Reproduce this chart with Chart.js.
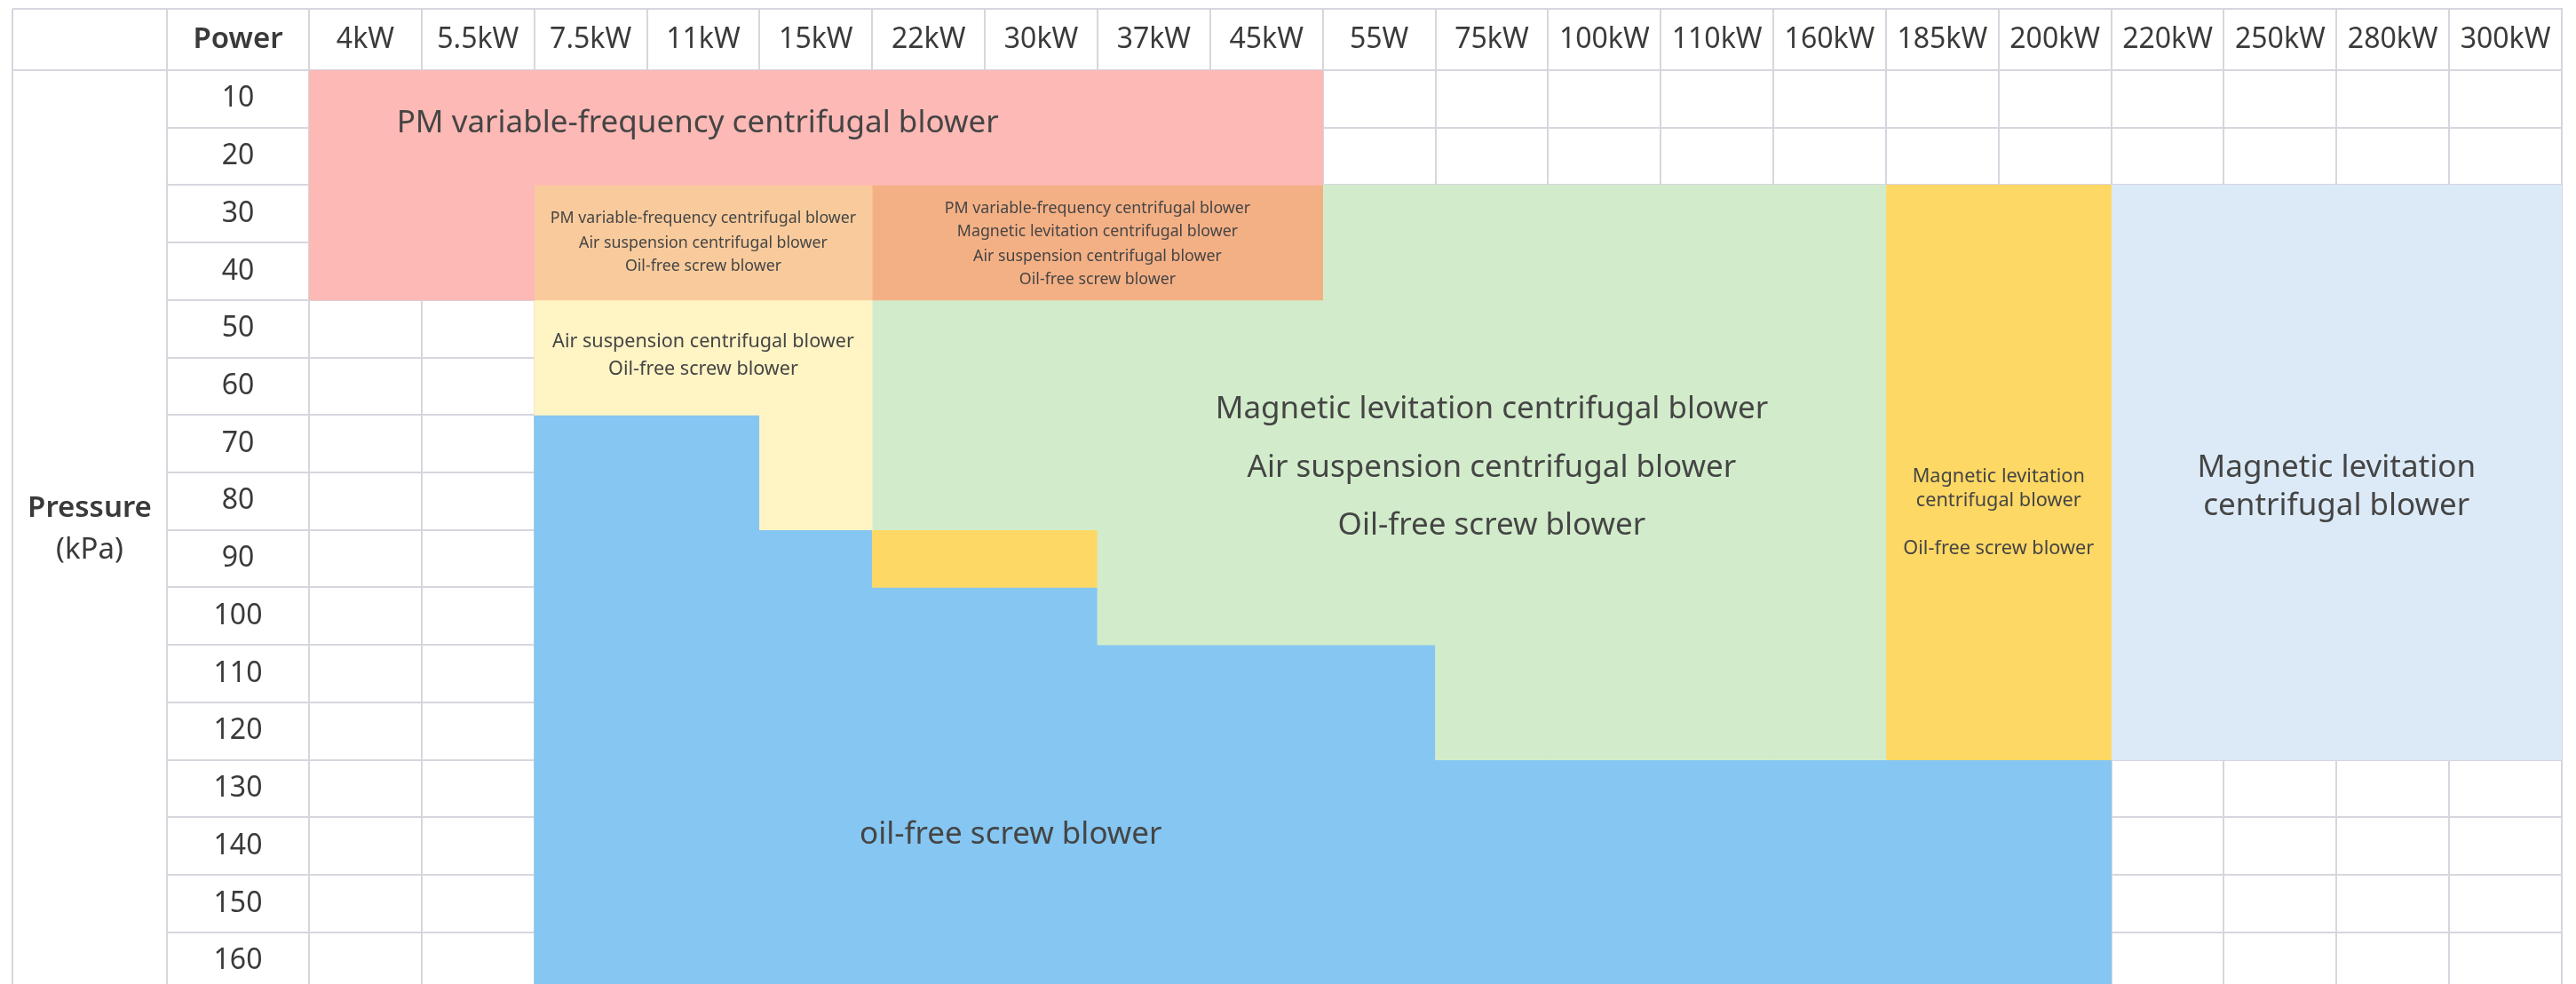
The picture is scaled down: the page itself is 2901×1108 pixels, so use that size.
<!DOCTYPE html>
<html lang="en">
<head>
<meta charset="UTF-8">
<title>Blower selection by power and pressure</title>
<script src="https://cdn.jsdelivr.net/npm/chart.js@4"></script>
<style>
  html, body { margin: 0; padding: 0; background: #fff; overflow: hidden; }
  #wrap { width: 2901px; height: 1108px; position: relative; }
</style>
</head>
<body>
<div id="wrap"><canvas id="blowerChart"></canvas></div>
<script>
// columns (power) and rows (pressure, kPa)
const powerLabels = ['4kW', '5.5kW', '7.5kW', '11kW', '15kW', '22kW', '30kW', '37kW', '45kW', '55W',
  '75kW', '100kW', '110kW', '160kW', '185kW', '200kW', '220kW', '250kW', '280kW', '300kW'];
const pressureLabels = [10, 20, 30, 40, 50, 60, 70, 80, 90, 100, 110, 120, 130, 140, 150, 160];

// pressure range [from, to] in kPa covered in each power column, null = empty cell
const pmVfd = [[10, 40], [10, 40], [10, 20], [10, 20], [10, 20], [10, 20], [10, 20], [10, 20], [10, 20],
  null, null, null, null, null, null, null, null, null, null, null];
const pmAirOil = [null, null, [30, 40], [30, 40], [30, 40],
  null, null, null, null, null, null, null, null, null, null, null, null, null, null, null];
const pmMagAirOil = [null, null, null, null, null, [30, 40], [30, 40], [30, 40], [30, 40],
  null, null, null, null, null, null, null, null, null, null, null];
const airOil = [null, null, [50, 60], [50, 60], [50, 80],
  null, null, null, null, null, null, null, null, null, null, null, null, null, null, null];
const magAirOil = [null, null, null, null, null, [50, 80], [50, 80], [50, 100], [50, 100], [30, 100],
  [30, 120], [30, 120], [30, 120], [30, 120], null, null, null, null, null, null];
const magOil = [null, null, null, null, null, [90, 90], [90, 90], null, null, null,
  null, null, null, null, [30, 120], [30, 120], null, null, null, null];
const magOnly = [null, null, null, null, null, null, null, null, null, null,
  null, null, null, null, null, null, [30, 120], [30, 120], [30, 120], [30, 120]];
const oilFree = [null, null, [70, 160], [70, 160], [90, 160], [100, 160], [100, 160], [110, 160], [110, 160], [110, 160],
  [130, 160], [130, 160], [130, 160], [130, 160], [130, 160], [130, 160], null, null, null, null];

// text written inside the coloured areas (x = column index, y = kPa)
const notes = [
  { text: 'PM variable-frequency centrifugal blower', x: 2.95, y: 14.3, size: 35 },
  { text: 'PM variable-frequency centrifugal blower', x: 3, y: 30.8, size: 17.8 },
  { text: 'Air suspension centrifugal blower', x: 3, y: 35.1, size: 17.8 },
  { text: 'Oil-free screw blower', x: 3, y: 39.1, size: 17.8 },
  { text: 'PM variable-frequency centrifugal blower', x: 6.5, y: 29.1, size: 17.8 },
  { text: 'Magnetic levitation centrifugal blower', x: 6.5, y: 33.1, size: 17.8 },
  { text: 'Air suspension centrifugal blower', x: 6.5, y: 37.4, size: 17.8 },
  { text: 'Oil-free screw blower', x: 6.5, y: 41.4, size: 17.8 },
  { text: 'Air suspension centrifugal blower', x: 3, y: 52.3, size: 21.6 },
  { text: 'Oil-free screw blower', x: 3, y: 57.1, size: 21.6 },
  { text: 'Magnetic levitation centrifugal blower', x: 10, y: 64.0, size: 35 },
  { text: 'Air suspension centrifugal blower', x: 10, y: 74.2, size: 35 },
  { text: 'Oil-free screw blower', x: 10, y: 84.3, size: 35 },
  { text: 'Magnetic levitation', x: 14.5, y: 75.7, size: 21.7 },
  { text: 'centrifugal blower', x: 14.5, y: 79.9, size: 21.7 },
  { text: 'Oil-free screw blower', x: 14.5, y: 88.3, size: 21.7 },
  { text: 'Magnetic levitation', x: 17.5, y: 74.2, size: 35 },
  { text: 'centrifugal blower', x: 17.5, y: 80.9, size: 35 },
  { text: 'oil-free screw blower', x: 5.73, y: 138.0, size: 35 }
];

const FONT = 'Noto Sans';
const lineColor = '#d6d6de';
const textColor = '#3a3a3a';
const tickSize = 32;
const headerHeight = 69;
const labelColWidth = 160;
const rowHalf = 5; // half a pressure row, so a cell covers value +/- 5 kPa

// measure widest row label so it can sit centred in its column
const mctx = document.createElement('canvas').getContext('2d');
mctx.font = tickSize + 'px "' + FONT + '"';
const widestRow = Math.max(...pressureLabels.map(v => mctx.measureText(String(v)).width));

function toBars(spans) {
  return spans.map(s => s ? [s[0] - rowHalf, s[1] + rowHalf] : null);
}

function area(label, spans, color) {
  return {
    label: label,
    data: toBars(spans),
    backgroundColor: color,
    borderWidth: 0,
    grouped: false,
    barPercentage: 1,
    categoryPercentage: 1
  };
}

const tablePlugin = {
  id: 'tableFrame',
  afterDatasetsDraw(chart) {
    const ctx = chart.ctx;
    const xs = chart.scales.x, ys = chart.scales.y;
    ctx.save();
    ctx.fillStyle = '#454545';
    ctx.textAlign = 'center';
    ctx.textBaseline = 'middle';
    notes.forEach(n => {
      ctx.font = n.size + 'px "' + FONT + '"';
      ctx.fillText(n.text, xs.getPixelForValue(n.x), ys.getPixelForValue(n.y));
    });
    ctx.restore();
  },
  afterDraw(chart) {
    const ctx = chart.ctx;
    const area = chart.chartArea;
    const xs = chart.scales.x, ys = chart.scales.y;
    const frameLeft = 14;
    ctx.save();
    ctx.strokeStyle = lineColor;
    ctx.lineWidth = 2;
    ctx.beginPath();
    ctx.moveTo(frameLeft, xs.top); ctx.lineTo(area.right + 1, xs.top);
    ctx.moveTo(frameLeft, xs.top); ctx.lineTo(frameLeft, chart.height);
    ctx.moveTo(ys.left, xs.top); ctx.lineTo(ys.left, chart.height);
    ctx.moveTo(frameLeft, area.top); ctx.lineTo(ys.left, area.top);
    ctx.stroke();

    ctx.fillStyle = textColor;
    ctx.textAlign = 'center';
    ctx.textBaseline = 'middle';
    ctx.font = '600 33px "' + FONT + '"';
    ctx.fillText('Power', (ys.left + ys.right) / 2, (xs.top + xs.bottom) / 2);
    const cx = (frameLeft + ys.left) / 2;
    ctx.font = '600 33px "' + FONT + '"';
    ctx.fillText('Pressure', cx, ys.getPixelForValue(81.2));
    ctx.font = '33px "' + FONT + '"';
    ctx.fillText('(kPa)', cx, ys.getPixelForValue(88.6));
    ctx.restore();
  }
};

new Chart(document.getElementById('blowerChart'), {
  type: 'bar',
  data: {
    labels: powerLabels,
    datasets: [
      area('PM variable-frequency centrifugal blower', pmVfd, '#fdb9b5'),
      area('PM / air suspension / oil-free screw', pmAirOil, '#f9cb9c'),
      area('PM / magnetic levitation / air suspension / oil-free screw', pmMagAirOil, '#f4b085'),
      area('Air suspension / oil-free screw', airOil, '#fff4c4'),
      area('Magnetic levitation / air suspension / oil-free screw', magAirOil, '#d2eccb'),
      area('Magnetic levitation / oil-free screw', magOil, '#fed864'),
      area('Magnetic levitation centrifugal blower', magOnly, '#dceaf7'),
      area('Oil-free screw blower', oilFree, '#85c6f2')
    ]
  },
  options: {
    responsive: true,
    maintainAspectRatio: false,
    animation: false,
    layout: { padding: { left: 188, right: 16, top: 10, bottom: 0 } },
    plugins: {
      legend: { display: false },
      tooltip: { enabled: false }
    },
    scales: {
      x: {
        type: 'category',
        position: 'top',
        offset: true,
        grid: { color: lineColor, lineWidth: 2, offset: true, drawTicks: true, tickLength: headerHeight },
        border: { color: lineColor, width: 2 },
        ticks: {
          color: textColor,
          font: { family: FONT, size: tickSize },
          autoSkip: false,
          maxRotation: 0,
          padding: -(headerHeight / 2) - (tickSize * 1.2) / 2
        },
        afterFit(s) { s.height = headerHeight; s.paddingLeft = 0; s.paddingRight = 0; }
      },
      y: {
        type: 'linear',
        reverse: true,
        min: 5,
        max: 164,
        grid: { color: lineColor, lineWidth: 2, offset: true, drawTicks: true, tickLength: labelColWidth },
        border: { color: lineColor, width: 2 },
        afterBuildTicks(s) { s.ticks = pressureLabels.map(v => ({ value: v })); },
        ticks: {
          color: textColor,
          font: { family: FONT, size: tickSize },
          crossAlign: 'center',
          padding: -(labelColWidth / 2) - widestRow / 2,
          callback: (v) => String(v)
        },
        afterFit(s) { s.width = labelColWidth; s.paddingTop = 0; s.paddingBottom = 0; }
      }
    }
  },
  plugins: [tablePlugin]
});
</script>
</body>
</html>
